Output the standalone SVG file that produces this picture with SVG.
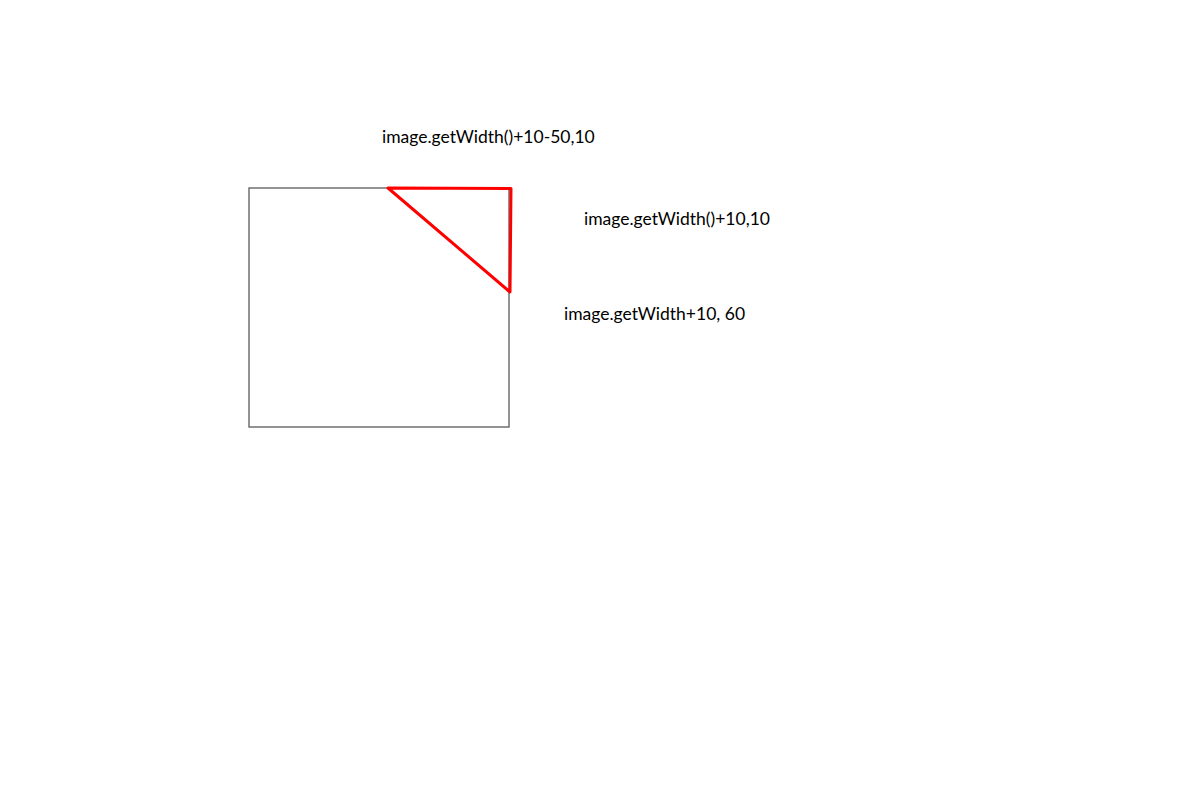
<svg xmlns="http://www.w3.org/2000/svg" width="1201" height="810" viewBox="0 0 1201 810">
<style>
.lbl{font-family:Lato,"Liberation Sans",sans-serif;font-size:17.5px;fill:#000}
</style>
<rect width="1201" height="810" fill="#fff"/>
<g id="box"><rect x="249" y="188" width="260" height="239" fill="none" stroke="#666" stroke-width="1.4"/></g>
<g id="triangle"><polygon points="388,188 511,188.5 510,292" fill="none" stroke="#f00" stroke-width="3" stroke-linejoin="round"/></g>
<g id="labels">
<text class="lbl" x="382" y="143">image.getWidth()+10-50,10</text>
<text class="lbl" x="584" y="225">image.getWidth()+10,10</text>
<text class="lbl" x="564" y="320">image.getWidth+10, 60</text>
</g>
</svg>
